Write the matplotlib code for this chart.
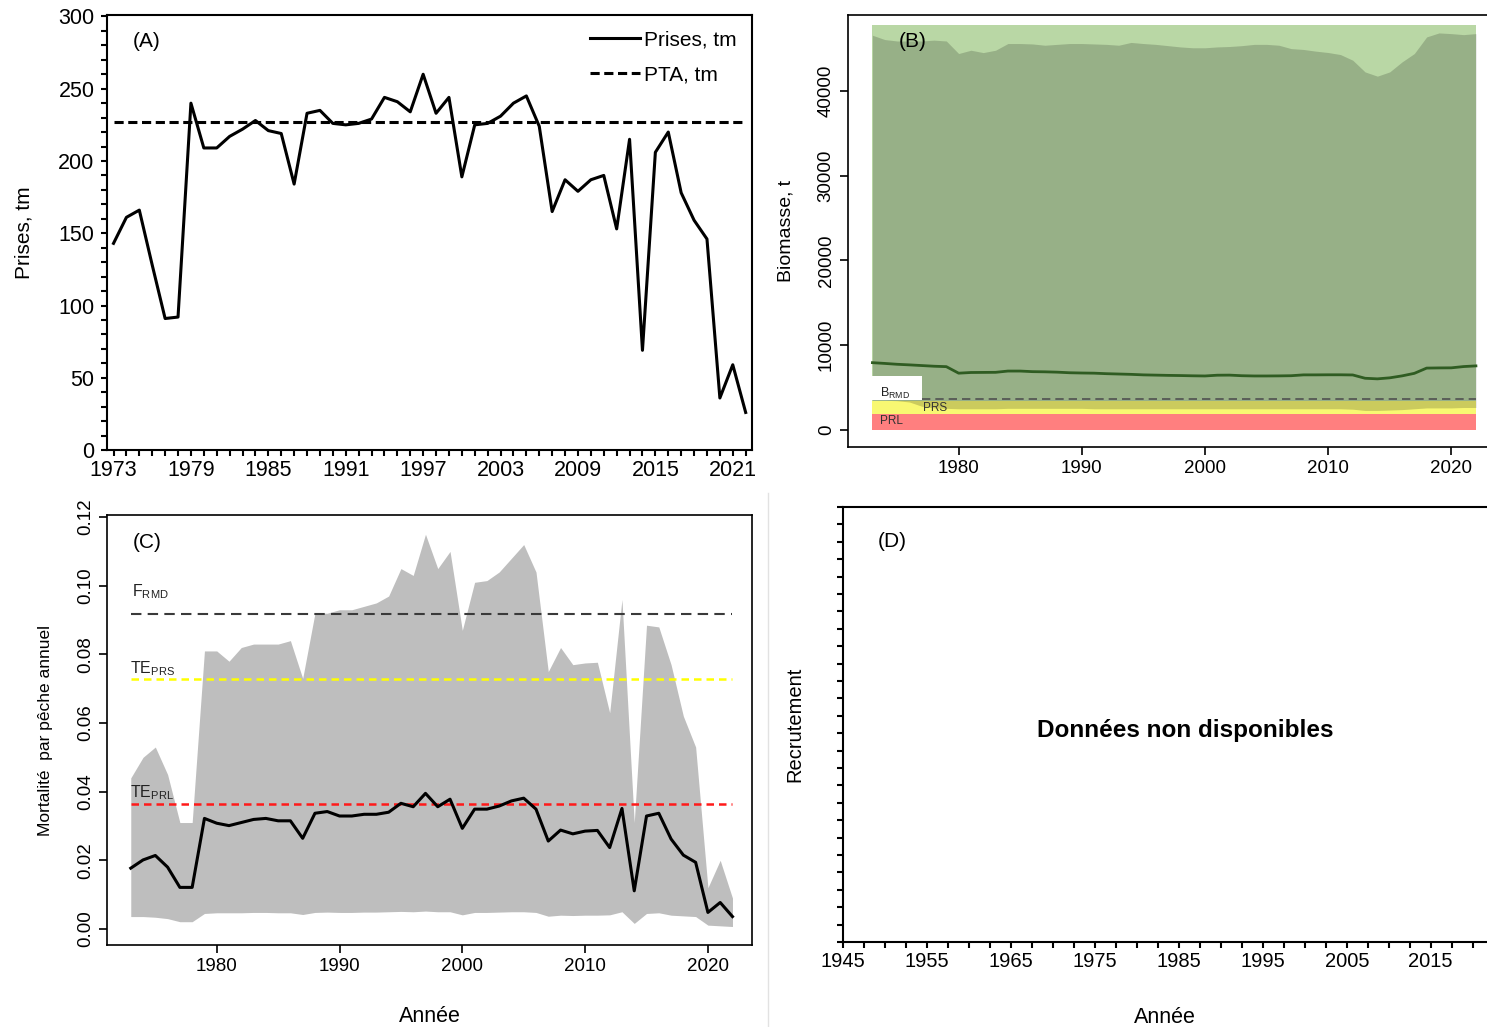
import matplotlib
matplotlib.use('Agg')
import matplotlib.pyplot as plt
from matplotlib.lines import Line2D
import numpy as np

plt.rcParams['font.family'] = ['Liberation Sans', 'DejaVu Sans']
plt.rcParams['mathtext.fontset'] = 'custom'
plt.rcParams['mathtext.rm'] = 'Liberation Sans'
plt.rcParams['mathtext.it'] = 'Liberation Sans:italic'

years = list(range(1973, 2023))

# (A) prises et PTA
prises = [143, 161, 166, 128, 91, 92, 240, 209, 209, 217, 222, 228, 221, 219, 184, 233,
          235, 226, 225, 226, 229, 244, 241, 234, 260, 233, 244, 189, 225, 226, 231, 240,
          245, 224, 165, 187, 179, 187, 190, 153, 215, 69, 206, 220, 178, 159, 146, 36,
          59, 26]
pta = 227

# (B) biomasse
biomasse = [7940, 7850, 7750, 7680, 7600, 7520, 7470, 6700, 6780, 6790, 6800, 6950, 6950,
            6880, 6860, 6820, 6750, 6720, 6700, 6640, 6600, 6560, 6500, 6470, 6440, 6420,
            6390, 6370, 6460, 6470, 6400, 6370, 6370, 6380, 6400, 6500, 6500, 6510, 6510,
            6490, 6100, 6030, 6150, 6380, 6680, 7300, 7320, 7330, 7480, 7560]
bio_haut = [46580, 46070, 45900, 45900, 45900, 46000, 45900, 44420, 44810, 44530, 44810,
            45600, 45600, 45550, 45400, 45500, 45600, 45600, 45550, 45500, 45400, 45730,
            45600, 45500, 45350, 45200, 45100, 45100, 45200, 45250, 45350, 45500, 45500,
            45400, 45000, 44900, 44700, 44540, 44300, 43630, 42250, 41750, 42250, 43430,
            44420, 46380, 46850, 46770, 46650, 46770]
bio_bas = [3500, 3500, 3450, 3300, 2800, 2600, 2550, 2500, 2500, 2500, 2500, 2550, 2550,
           2550, 2550, 2550, 2550, 2550, 2500, 2500, 2500, 2500, 2500, 2500, 2500, 2500,
           2500, 2500, 2500, 2500, 2500, 2500, 2500, 2500, 2500, 2500, 2500, 2500, 2500,
           2450, 2300, 2300, 2350, 2400, 2500, 2600, 2600, 2600, 2650, 2650]
b_rmd = 3650
prl_haut = 1850
prs_bas, prs_haut = 1900, 3450
zone_verte_haut = 47800

# (C) mortalite par peche
mortalite = [0.0177, 0.0201, 0.0214, 0.0180, 0.0121, 0.0121, 0.0322, 0.0308, 0.0301,
             0.0310, 0.0319, 0.0322, 0.0315, 0.0315, 0.0264, 0.0337, 0.0342, 0.0329,
             0.0329, 0.0334, 0.0334, 0.0340, 0.0366, 0.0356, 0.0395, 0.0356, 0.0378,
             0.0293, 0.0349, 0.0349, 0.0358, 0.0373, 0.0381, 0.0349, 0.0256, 0.0288,
             0.0277, 0.0285, 0.0287, 0.0237, 0.0351, 0.0111, 0.0329, 0.0337, 0.0262,
             0.0215, 0.0194, 0.0048, 0.0077, 0.0036]
mort_haut = [0.044, 0.050, 0.053, 0.045, 0.031, 0.031, 0.081, 0.081, 0.078, 0.082, 0.083,
             0.083, 0.083, 0.084, 0.073, 0.092, 0.092, 0.093, 0.093, 0.094, 0.095, 0.097,
             0.105, 0.103, 0.115, 0.105, 0.110, 0.087, 0.101, 0.1015, 0.104, 0.108, 0.112,
             0.104, 0.075, 0.082, 0.077, 0.0775, 0.0777, 0.063, 0.096, 0.031, 0.0885,
             0.088, 0.077, 0.062, 0.053, 0.012, 0.020, 0.009]
mort_bas = [0.0036, 0.0036, 0.0034, 0.0030, 0.0021, 0.0021, 0.0045, 0.0047, 0.0047, 0.0047,
            0.0048, 0.0048, 0.0047, 0.0047, 0.0042, 0.0048, 0.0049, 0.0048, 0.0048, 0.0049,
            0.0049, 0.0050, 0.0051, 0.0050, 0.0052, 0.0050, 0.0050, 0.0041, 0.0048, 0.0048,
            0.0049, 0.0050, 0.0050, 0.0048, 0.0037, 0.0040, 0.0039, 0.0040, 0.0040, 0.0041,
            0.0050, 0.0016, 0.0045, 0.0047, 0.0040, 0.0038, 0.0036, 0.0011, 0.0009, 0.0007]
f_rmd = 0.0917
te_prs = 0.0728
te_prl = 0.0364

fig = plt.figure(figsize=(14.87, 10.27), dpi=100)

# fine separator between the two lower panels
fig.add_artist(Line2D([0.5165, 0.5165], [0.0, 0.52], color='#e2e2e2', lw=1))

# ---- (A)
ax1 = fig.add_axes([0.072, 0.5618, 0.4338, 0.4236])
ax1.plot(years, prises, color='black', lw=2.2, label='Prises, tm')
ax1.plot([1973, 2022], [pta, pta], color='black', lw=2.2, ls=(0, (3, 1.5)), label='PTA, tm')
ax1.set_xlim(1972.5, 2022.5)
ax1.set_ylim(0, 301)
ax1.set_xticks(range(1973, 2023, 6))
ax1.set_xticks(range(1973, 2023), minor=True)
ax1.set_yticks(range(0, 301, 50))
ax1.set_yticks(range(0, 301, 10), minor=True)
ax1.tick_params(which='both', direction='out', length=4, width=1.5, labelsize=15.5)
ax1.tick_params(axis='y', pad=5)
ax1.set_ylabel('Prises, tm', fontsize=15, labelpad=18)
ax1.text(1974.5, 279, '(A)', fontsize=15)
ax1.legend(loc='upper right', frameon=False, fontsize=15, handlelength=2.4,
           handletextpad=0.2, borderaxespad=0.35, labelspacing=0.75)
for s in ax1.spines.values():
    s.set_linewidth(1.5)

# ---- (B)
ax2 = fig.add_axes([0.5703, 0.5648, 0.4297, 0.4206])
ax2.fill_between([1973, 2022], prs_haut, zone_verte_haut, color='#b9d7a5', lw=0)
ax2.fill_between([1973, 2022], prs_bas, prs_haut, color='#f8f872', lw=0)
ax2.fill_between([1973, 2022], 0, prl_haut, color='#ff7f7f', lw=0)
ax2.fill_between(years, bio_bas, bio_haut, color='black', alpha=0.18, lw=0)
ax2.fill_between([1973, 1977], 3550, 6350, color='white', lw=0)
ax2.plot([1977, 2022], [b_rmd, b_rmd], color='#505050', lw=1.2, ls=(0, (5, 3)))
ax2.plot(years, biomasse, color='#2f5c22', lw=2)
ax2.text(1973.6, 3900, 'B$_{\\mathrm{RMD}}$', fontsize=9, color='#222222')
ax2.text(1977.1, 2200, 'PRS', fontsize=8.5, color='#333333')
ax2.text(1973.6, 700, 'PRL', fontsize=8.5, color='#333333')
ax2.text(1975.1, 45200, '(B)', fontsize=15)
ax2.set_xlim(1971.02, 2022.9)
ax2.set_ylim(-2006, 48968)
ax2.set_xticks(range(1980, 2021, 10))
ax2.set_yticks(range(0, 40001, 10000))
ax2.tick_params(axis='y', labelrotation=90)
for lab in ax2.get_yticklabels():
    lab.set_va('center')
ax2.tick_params(direction='out', length=6, width=1.2, labelsize=13.5)
ax2.set_ylabel('Biomasse, t', fontsize=14, labelpad=17)
ax2.spines['right'].set_visible(False)
for s in ax2.spines.values():
    s.set_linewidth(1.2)

# ---- (C)
ax3 = fig.add_axes([0.072, 0.0798, 0.4338, 0.4187])
ax3.fill_between(years, mort_bas, mort_haut, color='#bebebe', lw=0)
ax3.plot([1973, 2022], [f_rmd, f_rmd], color='#3a3a3a', lw=1.5, ls=(0, (5, 3)))
ax3.plot([1973, 2022], [te_prs, te_prs], color='#ffff00', lw=1.8, ls=(0, (3, 2)))
ax3.plot([1973, 2022], [te_prl, te_prl], color='#ff1a1a', lw=1.8, ls=(0, (3, 2)))
ax3.plot(years, mortalite, color='black', lw=2.2)
ax3.text(1973.1, 0.0968, 'F$_{\\mathrm{RMD}}$', fontsize=11.5, color='#222222')
ax3.text(1972.9, 0.0745, 'TE$_{\\mathrm{PRS}}$', fontsize=11.5, color='#222222')
ax3.text(1972.9, 0.0383, 'TE$_{\\mathrm{PRL}}$', fontsize=11.5, color='#222222')
ax3.text(1973.2, 0.1110, '(C)', fontsize=15)
ax3.set_xlim(1971.07, 2023.6)
ax3.set_ylim(-0.0047, 0.1206)
ax3.set_xticks(range(1980, 2021, 10))
ax3.set_yticks(np.arange(0, 0.121, 0.02))
ax3.set_yticklabels(['0.00', '0.02', '0.04', '0.06', '0.08', '0.10', '0.12'])
ax3.tick_params(axis='y', labelrotation=90)
for lab in ax3.get_yticklabels():
    lab.set_va('center')
ax3.tick_params(direction='out', length=6, width=1.2, labelsize=13.5)
ax3.set_ylabel('Mortalité  par pêche annuel', fontsize=12.5, labelpad=17)
ax3.set_xlabel('Année', fontsize=15.5, labelpad=22)
for s in ax3.spines.values():
    s.set_linewidth(1.2)

# ---- (D)
ax4 = fig.add_axes([0.5669, 0.0828, 0.4331, 0.4236])
ax4.set_xlim(1945, 2021.7)
ax4.set_ylim(0, 25)
ax4.set_xticks(range(1945, 2016, 10))
ax4.set_xticks(np.arange(1945, 2021, 2.5), minor=True)
ax4.set_yticks(range(0, 26))
ax4.set_yticklabels([])
ax4.tick_params(which='both', direction='out', length=4, width=1.5, labelsize=14.5)
ax4.text(1949.2, 23.0, '(D)', fontsize=15, va='center')
ax4.text(0.531, 0.485, 'Données non disponibles', transform=ax4.transAxes, ha='center',
         va='center', fontsize=17.5, fontweight='bold')
ax4.set_ylabel('Recrutement', fontsize=14.5, labelpad=20)
ax4.set_xlabel('Année', fontsize=15.5, labelpad=26)
ax4.spines['right'].set_visible(False)
for s in ax4.spines.values():
    s.set_linewidth(1.5)

fig.savefig('out.png', dpi=100)
